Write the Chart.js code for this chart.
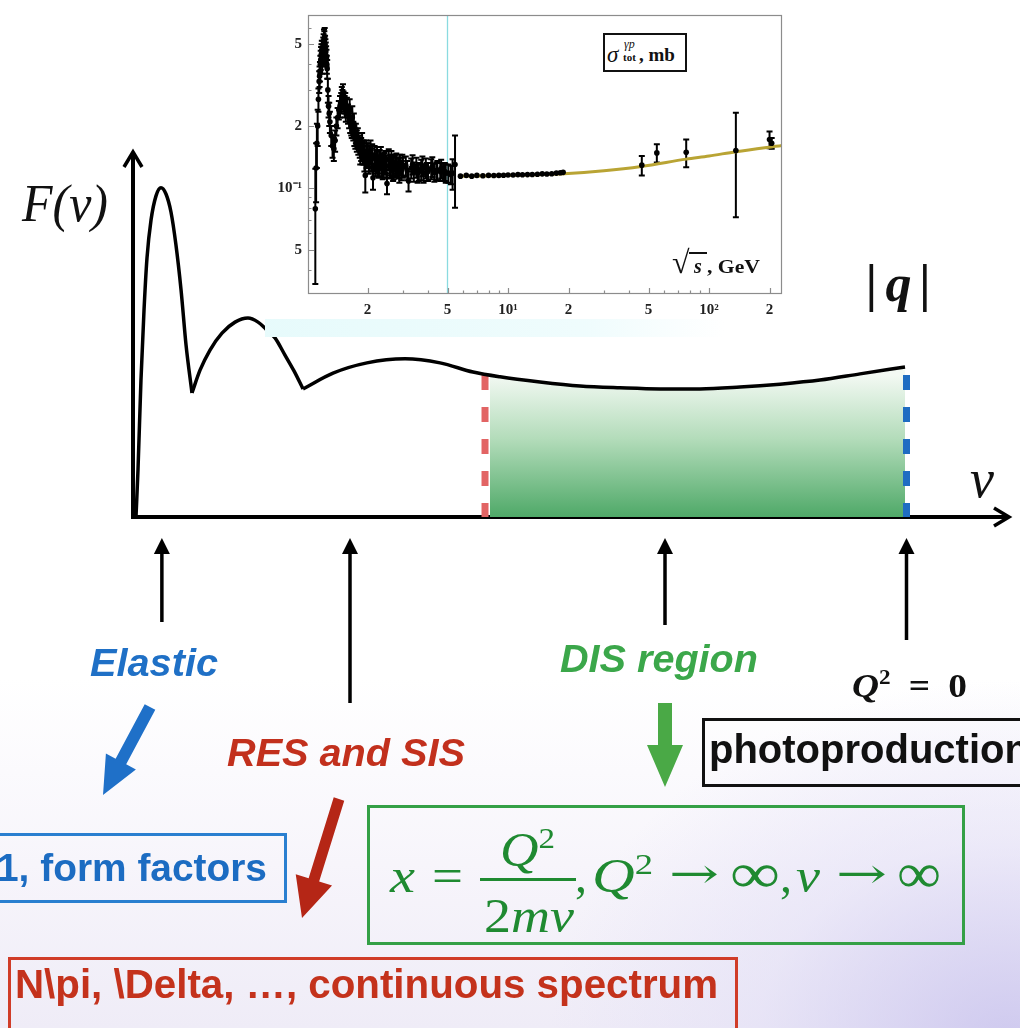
<!DOCTYPE html>
<html><head><meta charset="utf-8">
<script src="https://cdn.jsdelivr.net/npm/chart.js@4.4.1/dist/chart.umd.min.js"></script>
<style>
html,body{margin:0;padding:0;}
body{width:1020px;height:1028px;overflow:hidden;position:relative;
 background:
  radial-gradient(ellipse 460px 360px at 1010px 1040px, rgba(196,190,236,0.75), rgba(222,218,245,0.45) 55%, rgba(255,255,255,0) 100%),
  linear-gradient(to bottom,#ffffff 0%,#ffffff 66%,#f7f5fb 84%,#efecf7 100%);}
.abs{position:absolute;}
.sbi{font-family:"Liberation Sans",Arial,sans-serif;font-weight:bold;font-style:italic;line-height:1;white-space:nowrap;}
.sb{font-family:"Liberation Sans",Arial,sans-serif;font-weight:bold;line-height:1;white-space:nowrap;}
.serif{font-family:"Liberation Serif","Times New Roman",serif;line-height:1;white-space:nowrap;}
.sup{font-size:0.62em;position:relative;top:-0.6em;line-height:0;}
.box{position:absolute;box-sizing:border-box;}
.fx{position:absolute;font-family:"Liberation Serif","Times New Roman",serif;line-height:1;white-space:nowrap;font-size:48px;color:#1f8a31;}
.dj{font-family:"DejaVu Serif",serif;}
#insetBg{position:absolute;left:265px;top:0;width:525px;height:337px;background:#fff;}
#insetStrip{position:absolute;left:265px;top:319px;width:460px;height:18px;background:linear-gradient(to right, rgba(228,250,251,0.9), rgba(234,251,252,0.75) 70%, rgba(255,255,255,0));}
</style></head>
<body>
<canvas id="main" width="1020" height="1028" style="position:absolute;left:0;top:0;"></canvas>
<div id="insetBg"></div>
<div id="insetStrip"></div>
<canvas id="inset" width="525" height="318" style="position:absolute;left:265px;top:0;"></canvas>

<!-- inset annotations -->
<div class="box" style="left:603px;top:33px;width:84px;height:39px;border:2px solid #111;background:#fff;"></div>
<div class="abs serif" style="left:607px;top:43px;font-size:23px;font-style:italic;color:#111;">σ</div>
<div class="abs serif" style="left:624px;top:38px;font-size:12px;font-style:italic;color:#111;">γp</div>
<div class="abs serif" style="left:623px;top:52px;font-size:11px;font-weight:bold;color:#111;">tot</div>
<div class="abs serif" style="left:639px;top:45px;font-size:19px;font-weight:bold;color:#111;">, mb</div>
<div class="abs serif" style="left:672px;top:246px;font-size:32px;color:#111;">√</div>
<div class="abs" style="left:689px;top:252px;width:18px;height:1.6px;background:#111;"></div>
<div class="abs serif" style="left:694px;top:256px;font-size:20px;font-style:italic;font-weight:bold;color:#111;">s</div>
<div class="abs serif" data-w="53" style="left:707px;top:257px;font-size:19px;font-weight:bold;color:#111;">, GeV</div>

<!-- main labels -->
<div class="abs serif" data-w="86" style="left:22px;top:178px;font-size:52px;font-style:italic;color:#111;">F(ν)</div>
<div class="abs serif" style="left:866px;top:258px;font-size:52px;font-style:italic;font-weight:bold;letter-spacing:8px;color:#111;">|q|</div>
<div class="abs serif" style="left:970px;top:452px;font-size:54px;font-style:italic;color:#111;">ν</div>

<div class="abs sbi" data-w="128" style="left:90px;top:644px;font-size:38px;color:#1f70c6;">Elastic</div>
<div class="abs sbi" data-w="238" style="left:227px;top:734px;font-size:38px;color:#c2301d;">RES and SIS</div>
<div class="abs sbi" data-w="198" style="left:560px;top:640px;font-size:38px;color:#3ba74a;">DIS region</div>
<div class="abs serif" data-w="115" style="left:852px;top:669px;font-size:34px;font-weight:bold;word-spacing:8px;color:#111;"><i>Q</i><span class="sup">2</span> = 0</div>

<div class="box" style="left:-10px;top:833px;width:297px;height:70px;border:3px solid #2a7fd0;"></div>
<div class="abs sb" data-w="270" style="left:-3px;top:849px;font-size:38px;color:#1c6cc2;">1, form factors</div>

<div class="box" style="left:702px;top:718px;width:400px;height:69px;border:3px solid #111;"></div>
<div class="abs sb" style="left:709px;top:729px;font-size:40px;color:#111;">photoproduction</div>

<div class="box" style="left:367px;top:805px;width:598px;height:140px;border:3px solid #34a046;"></div>
<div class="fx" data-w="25" style="left:390px;top:852px;"><i>x</i></div>
<div class="fx" data-w="31" style="left:432px;top:852px;">=</div>
<div class="fx" data-w="55" style="left:500px;top:826px;"><i>Q</i><span class="sup">2</span></div>
<div class="abs" style="left:480px;top:878px;width:96px;height:3px;background:#1f8a31;"></div>
<div class="fx" data-w="90" style="left:484px;top:892px;">2<i>mν</i></div>
<div class="fx" style="left:575px;top:852px;">,</div>
<div class="fx" data-w="61" style="left:592px;top:852px;"><i>Q</i><span class="sup">2</span></div>
<div class="fx dj" data-w="50" style="left:669px;top:853px;font-size:42px;">→</div>
<div class="fx" data-w="50" style="left:730px;top:845px;font-size:56px;">∞</div>
<div class="fx" style="left:780px;top:852px;">,</div>
<div class="fx" data-w="24" style="left:796px;top:852px;"><i>ν</i></div>
<div class="fx dj" data-w="51" style="left:836px;top:853px;font-size:42px;">→</div>
<div class="fx" data-w="44" style="left:897px;top:845px;font-size:56px;">∞</div>

<div class="box" style="left:8px;top:957px;width:730px;height:100px;border:3px solid #d03c28;"></div>
<div class="abs sb" data-w="703" style="left:15px;top:964px;font-size:40px;color:#c4321c;">N\pi, \Delta, …, continuous spectrum</div>

<script>
// ---------------- main sketch: F(nu) ----------------
const elasticNu = [0.34,0.57,0.91,1.26,1.6,2.06,2.63,3.2,3.77,4.34,4.91,5.49,6.06,6.74];
const elasticF  = [0,1.28,3.73,5.64,7.06,8.09,8.75,8.97,8.8,8.31,7.41,6.19,4.69,3.38];
const resNu = [6.74,7.66,8.8,10.17,11.66,13.14,14.29,15.2,16.23,17.37,18.4,19.43];
const resF  = [3.38,4.0,4.55,5.01,5.31,5.42,5.31,5.12,4.88,4.41,3.98,3.49];
const contNu = [19.43,22.86,26.74,31.09,35.09,38.86,41.94,46.51,51.09,55.66,60.23,64.8,69.37,73.94,78.51,83.09,88.23];
const contF  = [3.49,3.92,4.2,4.31,4.2,3.95,3.82,3.68,3.57,3.52,3.49,3.49,3.54,3.62,3.73,3.9,4.09];
const disBounds = [40.23, 88.4];   // red (start of DIS) and blue (Q^2=0) dashed lines
const disTop = [3.87, 3.87];
const fillStart = 40.8;
const markerNu = [3.3, 24.8, 60.8, 88.4];   // arrows pointing at the axis

// ---------------- inset: sigma_tot(gamma p) vs sqrt(s) ----------------
const sA = [1.10,1.11,1.12,1.13,1.14,1.15,1.16,1.17,1.18,1.19,1.20,1.21,1.22,1.23,1.24,1.25,1.26,1.27,1.28,1.29,1.30,1.32,1.34,1.36,1.38,1.40,1.42,1.44,1.46,1.48,1.50,1.52,1.54,1.56,1.58,1.60];
const yA = [0.079,0.125,0.165,0.20,0.27,0.33,0.37,0.42,0.45,0.40,0.47,0.50,0.52,0.50,0.46,0.43,0.38,0.30,0.25,0.23,0.21,0.18,0.16,0.155,0.17,0.20,0.22,0.24,0.25,0.26,0.27,0.265,0.25,0.24,0.25,0.23];
const eA = [0.045,0.04,0.04,0.04,0.035,0.04,0.04,0.045,0.05,0.04,0.05,0.06,0.06,0.05,0.05,0.04,0.04,0.04,0.03,0.03,0.025,0.02,0.02,0.02,0.02,0.02,0.025,0.025,0.03,0.03,0.03,0.03,0.03,0.03,0.025,0.025];
const sA2 = [1.155,1.165,1.175,1.185,1.195,1.205,1.215,1.225,1.235,1.245,1.255,1.49,1.51,1.55];
const yA2 = [0.35,0.40,0.44,0.47,0.45,0.49,0.53,0.54,0.48,0.44,0.40,0.28,0.29,0.26];
const eA2 = [0.04,0.04,0.045,0.05,0.05,0.05,0.06,0.06,0.05,0.05,0.04,0.03,0.03,0.03];
const sB = [1.62,1.64,1.66,1.68,1.70,1.72,1.74,1.77,1.80,1.83,1.86,1.89,1.92,1.95,1.98,2.01,2.05,2.09,2.13,2.17,2.21,2.25,2.30,2.35,2.40,2.45,2.50,2.55,2.60,2.65,2.70,2.75,2.80,2.85,2.90,2.95,3.00];
const yB = [0.22,0.21,0.20,0.22,0.19,0.18,0.175,0.17,0.165,0.16,0.155,0.15,0.15,0.115,0.145,0.145,0.14,0.138,0.112,0.14,0.135,0.132,0.135,0.13,0.128,0.135,0.105,0.138,0.13,0.128,0.125,0.13,0.127,0.125,0.13,0.122,0.126];
const eB = [0.025,0.025,0.02,0.03,0.02,0.02,0.02,0.02,0.02,0.02,0.02,0.02,0.02,0.02,0.02,0.02,0.02,0.018,0.014,0.02,0.018,0.018,0.018,0.016,0.016,0.016,0.012,0.016,0.015,0.015,0.015,0.015,0.014,0.014,0.015,0.013,0.014];
const sB2 = [1.63,1.67,1.71,1.75,1.79,1.84,1.88,1.93,1.97,2.03,2.07,2.11,2.19,2.23,2.28,2.33,2.38,2.43,2.48,2.58,2.63,2.68,2.78,2.88,2.98];
const yB2 = [0.24,0.20,0.205,0.185,0.175,0.15,0.165,0.14,0.15,0.135,0.15,0.145,0.13,0.14,0.128,0.14,0.125,0.132,0.128,0.126,0.135,0.122,0.132,0.12,0.13];
const eB2 = [0.03,0.025,0.025,0.02,0.02,0.02,0.02,0.02,0.02,0.018,0.02,0.018,0.016,0.018,0.016,0.018,0.015,0.016,0.016,0.015,0.016,0.014,0.015,0.014,0.015];
const sC = [3.1,3.2,3.3,3.4,3.5,3.6,3.7,3.8,3.9,4.0,4.15,4.3,4.45,4.6,4.75,4.9,5.05,5.2,5.3,5.45];
const yC = [0.128,0.108,0.125,0.12,0.126,0.12,0.123,0.118,0.125,0.12,0.124,0.119,0.122,0.12,0.12,0.118,0.118,0.116,0.118,0.13];
const eC = [0.014,0.012,0.014,0.013,0.014,0.012,0.014,0.012,0.014,0.012,0.014,0.012,0.013,0.012,0.012,0.012,0.012,0.012,0.02,0.05];
const sC2 = [3.15,3.35,3.55,3.75,3.95,4.2,4.4,4.65,4.85];
const yC2 = [0.122,0.13,0.118,0.128,0.12,0.127,0.121,0.124,0.12];
const eC2 = [0.013,0.014,0.012,0.014,0.012,0.014,0.012,0.013,0.012];
const sD = [5.8,6.2,6.6,7.0,7.5,8.0,8.5,9.0,9.5,10.0,10.6,11.2,11.8,12.5,13.2,14.0,14.8,15.6,16.5,17.4,18.2,18.8];
const yD = [0.114,0.115,0.114,0.115,0.1145,0.115,0.1148,0.115,0.1152,0.1155,0.1155,0.116,0.1158,0.116,0.1162,0.1165,0.117,0.1168,0.1172,0.118,0.1185,0.119];
const sE = [46.3,55,77,136,200,205];
const yE = [0.129,0.148,0.149,0.152,0.172,0.165];
const eE = [0.014,0.015,0.023,0.08,0.016,0.01];
const fitS = [5.8,7,10,14,19,30,46,77,100,136,231];
const fitSigma = [0.114,0.1142,0.1148,0.1158,0.117,0.121,0.127,0.138,0.143,0.150,0.161];
const cutLine = 5;
const xMajor = [2,5,10,20,50,100,200];
const xMajorLabels = ['2','5','10¹','2','5','10²','2'];
const xMinor = [3,4,6,7,8,9,30,40,60,70,80,90];
const yMajor = [0.05,0.1,0.2,0.5];
const yMajorLabels = ['5','10⁻¹','2','5'];
const yMinor = [0.04,0.06,0.07,0.08,0.09,0.3,0.4,0.6];

const sqrtS = [].concat(sA,sA2,sB,sB2,sC,sC2,sD,sE);
const sigmaTot = [].concat(yA,yA2,yB,yB2,yC,yC2,yD,yE);
const sigmaErr = [].concat(eA,eA2,eB,eB2,eC,eC2,sD.map(()=>0),eE);

const pts = (xs, ys) => xs.map((x,i)=>({x, y: ys[i]}));

function clipFrom(xs, ys, x0){
  const out = [];
  for (let i=0;i<xs.length;i++){
    if (xs[i] >= x0){
      if (!out.length && i>0){
        const t=(x0-xs[i-1])/(xs[i]-xs[i-1]);
        out.push({x:x0, y: ys[i-1]+t*(ys[i]-ys[i-1])});
      }
      out.push({x:xs[i], y:ys[i]});
    }
  }
  return out;
}

function blockArrow(ctx, x1,y1,x2,y2, shaftW, headW, headL, color){
  const dx=x2-x1, dy=y2-y1, L=Math.hypot(dx,dy), ux=dx/L, uy=dy/L, px=-uy, py=ux;
  const bx=x2-ux*headL, by=y2-uy*headL;
  ctx.beginPath();
  ctx.moveTo(x1+px*shaftW/2, y1+py*shaftW/2);
  ctx.lineTo(bx+px*shaftW/2, by+py*shaftW/2);
  ctx.lineTo(bx+px*headW/2, by+py*headW/2);
  ctx.lineTo(x2,y2);
  ctx.lineTo(bx-px*headW/2, by-py*headW/2);
  ctx.lineTo(bx-px*shaftW/2, by-py*shaftW/2);
  ctx.lineTo(x1-px*shaftW/2, y1-py*shaftW/2);
  ctx.closePath();
  ctx.fillStyle=color; ctx.fill();
}

const mainDeco = {
  id:'mainDeco',
  beforeDatasetsDraw(chart){
    const {ctx, chartArea:a} = chart;
    ctx.save();
    ctx.strokeStyle='#000'; ctx.lineWidth=4; ctx.lineCap='butt';
    ctx.beginPath(); ctx.moveTo(a.left, a.bottom+2); ctx.lineTo(a.left, a.top+3); ctx.stroke();
    ctx.beginPath(); ctx.moveTo(a.left-2, a.bottom); ctx.lineTo(a.right+1, a.bottom); ctx.stroke();
    ctx.lineWidth=3.5; ctx.lineJoin='miter';
    ctx.beginPath(); ctx.moveTo(a.left-9, a.top+17); ctx.lineTo(a.left, a.top+2); ctx.lineTo(a.left+9, a.top+17); ctx.stroke();
    ctx.beginPath(); ctx.moveTo(a.right-14, a.bottom-9); ctx.lineTo(a.right+1, a.bottom); ctx.lineTo(a.right-14, a.bottom+9); ctx.stroke();
    ctx.restore();
  },
  afterDatasetsDraw(chart){
    const {ctx, scales:{x}} = chart;
    const bottoms = [622, 703, 625, 640];
    ctx.save();
    markerNu.forEach((nu,i)=>{
      const px = x.getPixelForValue(nu);
      ctx.strokeStyle='#000'; ctx.lineWidth=3.5;
      ctx.beginPath(); ctx.moveTo(px, bottoms[i]); ctx.lineTo(px, 550); ctx.stroke();
      ctx.fillStyle='#000';
      ctx.beginPath(); ctx.moveTo(px,538); ctx.lineTo(px-8,554); ctx.lineTo(px+8,554); ctx.closePath(); ctx.fill();
    });
    blockArrow(ctx, 150,707, 103,795, 12, 34, 38, '#1f70c8');
    blockArrow(ctx, 339,799, 302,918, 11, 38, 40, '#b52616');
    blockArrow(ctx, 665,703, 665,787, 14, 36, 42, '#4aa946');
    ctx.restore();
  }
};

new Chart(document.getElementById('main'), {
  type:'line',
  data:{datasets:[
    {data: pts(elasticNu, elasticF), borderColor:'#000', borderWidth:3.5, cubicInterpolationMode:'monotone', order:0},
    {data: pts(resNu, resF), borderColor:'#000', borderWidth:3.5, cubicInterpolationMode:'monotone', order:0},
    {data: pts(contNu, contF), borderColor:'#000', borderWidth:3.5, cubicInterpolationMode:'monotone', order:0},
    {data: clipFrom(contNu, contF, fillStart), borderWidth:0, borderColor:'rgba(0,0,0,0)', cubicInterpolationMode:'monotone', fill:'origin', order:3,
      backgroundColor:(c)=>{
        const ch=c.chart, a=ch.chartArea; if(!a) return 'rgba(0,0,0,0)';
        const top = ch.scales.y.getPixelForValue(disTop[0]);
        const g = ch.ctx.createLinearGradient(0, top, 0, a.bottom);
        g.addColorStop(0,'#f3f9f3'); g.addColorStop(0.45,'#b3dcba'); g.addColorStop(1,'#4fa968');
        return g;
      }},
    {data:[{x:disBounds[0],y:disTop[0]},{x:disBounds[0],y:0}], borderColor:'#e26464', borderWidth:7, borderDash:[15,17], order:2},
    {data:[{x:disBounds[1],y:disTop[1]},{x:disBounds[1],y:0}], borderColor:'#1f6dc2', borderWidth:7, borderDash:[15,17], order:1}
  ]},
  options:{
    responsive:false, animation:false, devicePixelRatio:1,
    layout:{padding:{left:133, right:12, top:150, bottom:511}},
    elements:{point:{radius:0}},
    plugins:{legend:{display:false}, tooltip:{enabled:false}},
    scales:{
      x:{type:'linear', display:false, min:0, max:100},
      y:{type:'linear', display:false, min:0, max:10}
    }
  },
  plugins:[mainDeco]
});

const insetDeco = {
  id:'insetDeco',
  beforeDatasetsDraw(chart){
    const {ctx, chartArea:a, scales:{x,y}} = chart;
    ctx.save();
    const cx = x.getPixelForValue(cutLine);
    ctx.strokeStyle='#8adbe0'; ctx.lineWidth=1.3;
    ctx.beginPath(); ctx.moveTo(cx,a.top); ctx.lineTo(cx,a.bottom); ctx.stroke();
    ctx.strokeStyle='#000'; ctx.lineWidth=2;
    sqrtS.forEach((s,i)=>{
      const e = sigmaErr[i]; if(!e) return;
      const px = x.getPixelForValue(s);
      const y1 = y.getPixelForValue(sigmaTot[i]-e), y2 = y.getPixelForValue(sigmaTot[i]+e);
      ctx.beginPath();
      ctx.moveTo(px,y1); ctx.lineTo(px,y2);
      ctx.moveTo(px-3,y1); ctx.lineTo(px+3,y1);
      ctx.moveTo(px-3,y2); ctx.lineTo(px+3,y2);
      ctx.stroke();
    });
    ctx.restore();
  },
  afterDraw(chart){
    const {ctx, chartArea:a, scales:{x,y}} = chart;
    ctx.save();
    ctx.strokeStyle='#8c8c8c'; ctx.lineWidth=1.2;
    ctx.strokeRect(a.left+0.5, a.top+0.5, a.right-a.left-1, a.bottom-a.top-1);
    ctx.beginPath();
    xMajor.forEach(v=>{const p=Math.round(x.getPixelForValue(v))+0.5; ctx.moveTo(p,a.bottom); ctx.lineTo(p,a.bottom-6);});
    xMinor.forEach(v=>{const p=Math.round(x.getPixelForValue(v))+0.5; ctx.moveTo(p,a.bottom); ctx.lineTo(p,a.bottom-3.5);});
    yMajor.forEach(v=>{const p=Math.round(y.getPixelForValue(v))+0.5; ctx.moveTo(a.left,p); ctx.lineTo(a.left+6,p);});
    yMinor.forEach(v=>{const p=Math.round(y.getPixelForValue(v))+0.5; ctx.moveTo(a.left,p); ctx.lineTo(a.left+3.5,p);});
    ctx.stroke();
    ctx.restore();
  }
};

const tickFont = {family:'"Liberation Serif", "Times New Roman", serif', weight:'bold', size:15};
new Chart(document.getElementById('inset'), {
  type:'scatter',
  data:{datasets:[
    {data: pts(sqrtS, sigmaTot), pointRadius:2.8, pointBackgroundColor:'#000', pointBorderWidth:0, showLine:false},
    {data: pts(fitS, fitSigma), showLine:true, borderColor:'#b9a434', borderWidth:3, pointRadius:0, cubicInterpolationMode:'monotone'}
  ]},
  options:{
    responsive:false, animation:false, devicePixelRatio:1,
    layout:{padding:{top:10, right:8, left:0, bottom:0}},
    plugins:{legend:{display:false}, tooltip:{enabled:false}},
    scales:{
      x:{type:'logarithmic', min:1.0115, max:230.7, bounds:'data',
         afterBuildTicks:(s)=>{ s.ticks = xMajor.map(v=>({value:v})); },
         afterFit:(s)=>{ s.height = 24; },
         ticks:{autoSkip:false, maxRotation:0, padding:7, color:'#222', font:tickFont, callback:(v,i)=>xMajorLabels[i]},
         grid:{display:false, drawTicks:false}, border:{display:false}},
      y:{type:'logarithmic', min:0.0304, max:0.695, bounds:'data',
         afterBuildTicks:(s)=>{ s.ticks = yMajor.map(v=>({value:v})); },
         afterFit:(s)=>{ s.width = 43; },
         ticks:{autoSkip:false, padding:6, color:'#222', font:tickFont, callback:(v,i)=>yMajorLabels[i]},
         grid:{display:false, drawTicks:false}, border:{display:false}}
    }
  },
  plugins:[insetDeco]
});

// fit text widths to the reference layout
document.querySelectorAll('[data-w]').forEach(el=>{
  const w = el.getBoundingClientRect().width;
  const t = +el.dataset.w;
  if (w > 0){ el.style.transformOrigin='left top'; el.style.transform='scaleX('+(t/w).toFixed(4)+')'; }
});
</script>
</body></html>
